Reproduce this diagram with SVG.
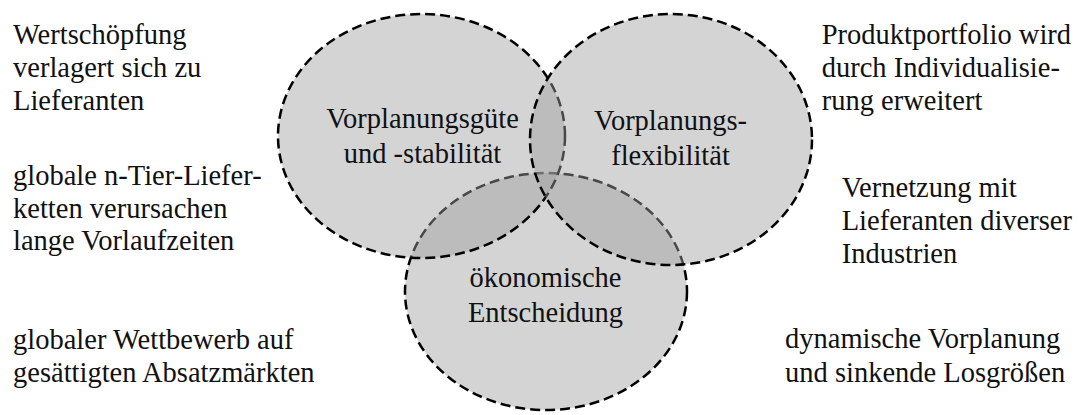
<svg xmlns="http://www.w3.org/2000/svg" width="1079" height="415" viewBox="0 0 1079 415">
  <style>
    .set { fill: #a0a0a0; fill-opacity: 0.45; stroke: #000; stroke-width: 2.5; stroke-dasharray: 10 5; }
    .mid { text-anchor: middle; }
  </style>
  <rect width="1079" height="415" fill="#fff"/>

  <!-- set circles: drawn bottom first so later fills tint earlier outlines -->
  <g id="set-oekonomische-entscheidung">
    <ellipse class="set" cx="546" cy="291.5" rx="141" ry="118.5"/>
  </g>
  <g id="set-vorplanungsguete">
    <ellipse class="set" cx="421.5" cy="136" rx="143.5" ry="122"/>
  </g>
  <g id="set-vorplanungsflexibilitaet">
    <ellipse class="set" cx="671" cy="139.5" rx="141" ry="125.5"/>
  </g>

  <g font-family="'Liberation Serif', 'Times New Roman', serif" font-size="28.5" fill="#111">
    <!-- circle labels -->
    <g id="label-vorplanungsguete">
      <text class="mid" x="422.5" y="128.3">Vorplanungsgüte</text>
      <text class="mid" x="422.5" y="163.3">und -stabilität</text>
    </g>
    <g id="label-vorplanungsflexibilitaet">
      <text class="mid" x="670.5" y="130">Vorplanungs-</text>
      <text class="mid" x="670.5" y="165">flexibilität</text>
    </g>
    <g id="label-oekonomische-entscheidung">
      <text class="mid" x="545.5" y="286.7">ökonomische</text>
      <text class="mid" x="545.5" y="321.7">Entscheidung</text>
    </g>

    <!-- surrounding drivers -->
    <g id="driver-wertschoepfung">
      <text x="13" y="44">Wertschöpfung</text>
      <text x="13" y="77">verlagert sich zu</text>
      <text x="13" y="110">Lieferanten</text>
    </g>
    <g id="driver-lieferketten">
      <text x="13" y="185">globale n-Tier-Liefer-</text>
      <text x="13" y="217.5">ketten verursachen</text>
      <text x="13" y="250">lange Vorlaufzeiten</text>
    </g>
    <g id="driver-wettbewerb">
      <text x="13" y="349.3">globaler Wettbewerb auf</text>
      <text x="13" y="381.7">gesättigten Absatzmärkten</text>
    </g>
    <g id="driver-produktportfolio">
      <text x="821.7" y="43.5">Produktportfolio wird</text>
      <text x="821.7" y="76.7">durch Individualisie-</text>
      <text x="821.7" y="110">rung erweitert</text>
    </g>
    <g id="driver-vernetzung">
      <text x="841.7" y="196.7">Vernetzung mit</text>
      <text x="841.7" y="230">Lieferanten diverser</text>
      <text x="841.7" y="263.3">Industrien</text>
    </g>
    <g id="driver-dynamische-vorplanung">
      <text x="785" y="348.3">dynamische Vorplanung</text>
      <text x="785" y="381.7">und sinkende Losgrößen</text>
    </g>
  </g>

  <!-- no connectors in this diagram -->
  <g id="connectors"/>
</svg>
